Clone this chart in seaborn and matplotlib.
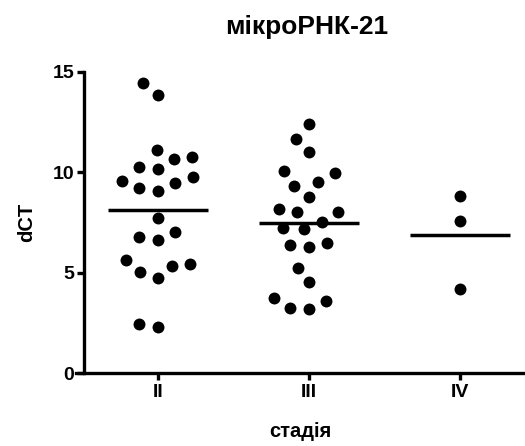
import numpy as np
import pandas as pd
import matplotlib
matplotlib.use("Agg")
import matplotlib.pyplot as plt
import seaborn as sns

stages = ["II", "III", "IV"]
stage_II = [14.43, 13.85, 11.11, 10.78, 10.66, 10.28, 10.15, 9.75, 9.45, 9.58,
            9.07, 9.20, 7.74, 7.01, 6.63, 6.76, 5.43, 5.63, 5.05, 5.35, 4.72,
            2.31, 2.43]
stage_III = [12.41, 11.64, 11.00, 10.06, 9.98, 9.53, 9.32, 8.75, 8.17, 8.00,
             8.00, 7.51, 7.21, 7.16, 6.49, 6.29, 6.38, 5.25, 4.52, 3.59, 3.72,
             3.17, 3.22]
stage_IV = [8.82, 7.57, 4.17]
title = "мікроРНК-21"
xlabel = "стадія"
ylabel = "dCT"
yticks = [0, 5, 10, 15]

df = pd.DataFrame({
    "stage": ["II"] * len(stage_II) + ["III"] * len(stage_III) + ["IV"] * len(stage_IV),
    "dCT": stage_II + stage_III + stage_IV,
})

sns.set_theme(style="ticks")
plt.rcParams["font.family"] = ["Liberation Sans", "DejaVu Sans"]
plt.rcParams["font.weight"] = "bold"
plt.rcParams["text.color"] = "black"
plt.rcParams["axes.labelcolor"] = "black"
plt.rcParams["xtick.color"] = "black"
plt.rcParams["ytick.color"] = "black"
plt.rcParams["xtick.labelsize"] = 14
plt.rcParams["ytick.labelsize"] = 14

fig = plt.figure(figsize=(5.25, 4.46), dpi=100)
ax = fig.add_axes([76 / 525, 1 - 373 / 446, (524 - 76) / 525, (373 - 72) / 446])

sns.swarmplot(data=df, x="stage", y="dCT", order=stages, color="black",
              size=10.8, linewidth=2.2, edgecolor="white", ax=ax, zorder=2)

means = df.groupby("stage")["dCT"].mean().reindex(stages)
for i, m in enumerate(means.values):
    ax.hlines(m, i - 0.33, i + 0.33, color="black", lw=2.5, zorder=3)

ax.set_xlim(-0.543, 2.424)
ax.set_ylim(0, 15)
ax.set_yticks(yticks)
ax.set_yticklabels([str(t) for t in yticks])
ax.set_xticks(range(len(stages)))
ax.set_xticklabels(stages)
ax.spines["right"].set_visible(False)
ax.spines["top"].set_visible(False)
ax.spines["left"].set_position(("data", -0.49))
for s in ["left", "bottom"]:
    ax.spines[s].set_linewidth(2.4)
    ax.spines[s].set_color("black")
ax.tick_params(axis="both", width=2.4, length=5, color="black",
               labelcolor="black", labelsize=14)
ax.tick_params(axis="y", pad=2)
ax.tick_params(axis="x", pad=3)
for lab in ax.get_xticklabels() + ax.get_yticklabels():
    lab.set_fontweight("bold")

ax.set_xlabel(xlabel, fontsize=14.5, fontweight="bold", labelpad=15)
ax.set_ylabel(ylabel, fontsize=14.5, fontweight="bold", labelpad=12)
fig.text(307 / 525, 1 - 27 / 446, title, ha="center", va="center",
         fontsize=19, fontweight="bold")

fig.savefig("out.png", dpi=100)
